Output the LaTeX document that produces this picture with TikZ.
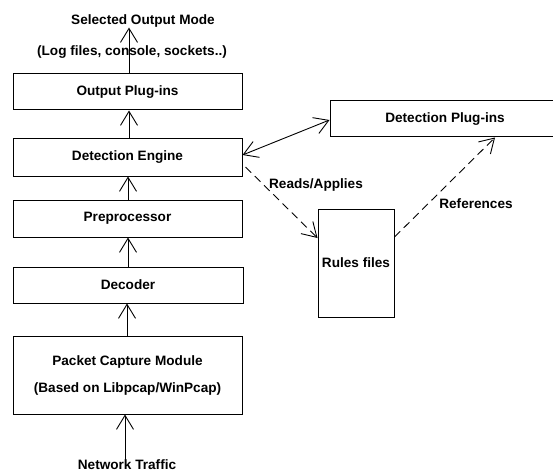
\documentclass[tikz,border=0pt]{standalone}
\usepackage{fontspec}
\setmainfont{Liberation Sans}
\usetikzlibrary{arrows.meta,calc}

\tikzset{
  box/.style={draw=black, line width=1pt, rectangle, inner sep=0pt,
    align=center, font=\fontsize{13.6pt}{16pt}\selectfont\bfseries},
  lbl/.style={inner sep=0pt, font=\fontsize{13.6pt}{16pt}\selectfont\bfseries},
  arr/.style={line width=0.9pt, -{Straight Barb[length=14pt,width=17pt,line width=0.9pt]}},
  biarr/.style={line width=0.9pt, {Straight Barb[length=14pt,width=17pt,line width=0.9pt]}-{Straight Barb[length=14pt,width=17pt,line width=0.9pt]}},
  dasharr/.style={arr, dash pattern=on 8pt off 5pt},
}

\begin{document}
\begin{tikzpicture}[x=1pt, y=-1pt]
  \useasboundingbox (0,0) rectangle (553,473);
  \clip (0,0) rectangle (553,473);

  % main processing chain
  \node[box, minimum width=229pt, minimum height=36pt] (out) at (127.5,92) {Output Plug-ins};
  \node[box, minimum width=229pt, minimum height=37pt] (eng) at (127.5,157.5) {Detection Engine};
  \node[box, minimum width=229pt, minimum height=37pt] (pre) at (127.5,218.5) {Preprocessor};
  \node[box, minimum width=230pt, minimum height=36pt] (dec) at (128,285) {Decoder};
  \node[box, minimum width=229pt, minimum height=78pt] (pcm) at (127.5,375)
    {Packet Capture Module\\[11pt](Based on Libpcap/WinPcap)};

  % side components
  \node[box, minimum width=230pt, minimum height=36pt] (dpl) at (445,119) {Detection Plug-ins};
  \node[box, minimum width=76pt, minimum height=108pt] (rules) at (356,263) {Rules files};

  % free labels
  \node[lbl] (sel) at (143,21) {Selected Output Mode};
  \node[lbl] (log) at (132,52) {(Log files, console, sockets..)};
  \node[lbl] (net) at (127,465) {Network Traffic};
  \node[lbl] (reads) at (316,185) {Reads/Applies};
  \node[lbl] (refs) at (476,204) {References};

  % data flow upward
  \draw[arr] ([xshift=1.5pt]out.north) -- ([xshift=1.5pt]out.north |- sel.south);
  \draw[arr] ([xshift=1.5pt]eng.north) -- ([xshift=1.5pt]out.south);
  \draw[arr] ([xshift=0.5pt]pre.north) -- ([xshift=0.5pt]eng.south);
  \draw[arr] (dec.north) -- (dec.north |- pre.south);
  \draw[arr] ([xshift=-0.5pt]pcm.north) -- ([xshift=-0.5pt]pcm.north |- dec.south);
  \draw[arr] ([xshift=-2pt]net.center) -- ([xshift=-2pt]net.center |- pcm.south);

  % engine <-> plug-ins, rules relations
  \draw[biarr] ([yshift=2.5pt]eng.east) -- ([yshift=-1pt]dpl.west);
  \draw[dasharr] ($(eng.east)+(3,9.5)$) -- ([yshift=25pt]rules.west);
  \draw[dasharr] ([yshift=26pt]rules.east) -- ([xshift=50pt]dpl.south);
\end{tikzpicture}
\end{document}
